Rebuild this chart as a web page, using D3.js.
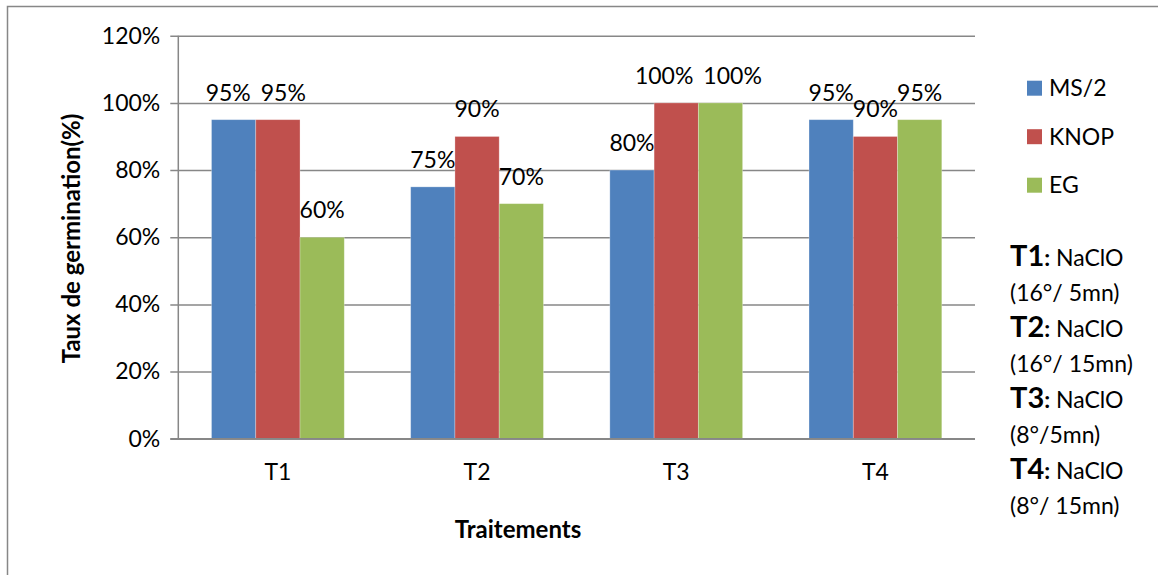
<!DOCTYPE html>
<html>
<head>
<meta charset="utf-8">
<script src="https://cdn.jsdelivr.net/npm/d3@7"></script>
<style>
  html, body { margin: 0; padding: 0; background: #fff; }
  svg { display: block; font-family: Lato, "Open Sans", sans-serif; }
</style>
</head>
<body>
<svg id="chart" width="1158" height="575"></svg>
<script>
// Germination rate per treatment and culture medium
const categories = ["T1", "T2", "T3", "T4"];
const seriesNames = ["MS/2", "KNOP", "EG"];
const ms2Values = [95, 75, 80, 95];
const knopValues = [95, 90, 100, 90];
const egValues = [60, 70, 100, 95];
const yTickValues = [0, 20, 40, 60, 80, 100, 120];
const seriesColors = ["#4F81BD", "#C0504D", "#9BBB59"];
const yTitle = "Taux de germination(%)";
const xTitle = "Traitements";
const treatmentNotes = [
  ["T1", "(16°/ 5mn)"],
  ["T2", "(16°/ 15mn)"],
  ["T3", "(8°/5mn)"],
  ["T4", "(8°/ 15mn)"]
];
const noteProduct = " NaClO";

const seriesValues = [ms2Values, knopValues, egValues];
const rows = categories.map((c, i) => ({
  category: c,
  values: seriesNames.map((s, j) => ({ series: s, value: seriesValues[j][i], idx: j }))
}));

const svg = d3.select("#chart");
const plot = { left: 178.3, right: 975, top: 35.7, bottom: 438.8 };
const gridColor = "#878787";
const textSize = 23;

// outer chart frame
svg.append("rect")
  .attr("x", 7.5).attr("y", 6.5)
  .attr("width", 1200).attr("height", 600)
  .attr("fill", "none").attr("stroke", gridColor).attr("stroke-width", 1.5);

const x = d3.scaleBand()
  .domain(categories)
  .range([plot.left, plot.right])
  .paddingInner(1 / 3)
  .paddingOuter(1 / 6);

const xInner = d3.scaleBand()
  .domain(seriesNames)
  .range([0, x.bandwidth()]);

const y = d3.scaleLinear().domain([0, 120]).range([plot.bottom, plot.top]);

// horizontal gridlines with outward ticks
const yAxis = d3.axisLeft(y)
  .tickValues(yTickValues)
  .tickSize(8)
  .tickPadding(10)
  .tickFormat(d => d + "%");

const yAxisG = svg.append("g")
  .attr("transform", `translate(${plot.left},0)`)
  .call(yAxis);
yAxisG.select(".domain").attr("stroke", gridColor).attr("stroke-width", 1.5)
  .attr("d", `M0,${plot.top}V${plot.bottom}`);
yAxisG.selectAll(".tick line")
  .attr("stroke", gridColor).attr("stroke-width", 1.5)
  .attr("x1", -8).attr("x2", plot.right - plot.left);
yAxisG.selectAll(".tick text")
  .attr("fill", "#000").style("font-size", textSize + "px")
  .style("font-family", "Lato, sans-serif");

// bars
const groups = svg.append("g").selectAll("g")
  .data(rows)
  .join("g")
  .attr("transform", d => `translate(${x(d.category)},0)`);

groups.selectAll("rect")
  .data(d => d.values)
  .join("rect")
  .attr("x", d => xInner(d.series))
  .attr("y", d => y(d.value))
  .attr("width", xInner.bandwidth())
  .attr("height", d => y(0) - y(d.value))
  .attr("fill", d => seriesColors[d.idx])
  .attr("stroke", "rgba(255,255,255,0.35)")
  .attr("stroke-width", 0.8);

// value labels
groups.selectAll("text.value")
  .data(d => d.values)
  .join("text")
  .attr("class", "value")
  .attr("x", d => xInner(d.series) + xInner.bandwidth() / 2)
  .attr("y", d => y(d.value) - 19)
  .attr("text-anchor", "middle")
  .style("font-size", textSize + "px")
  .attr("fill", "#000")
  .text(d => d.value + "%");

// spread apart neighbouring labels that sit at the same height
const labelGap = 10;
groups.each(function () {
  const labels = d3.select(this).selectAll("text.value").nodes().map(n => ({
    node: n,
    cx: +n.getAttribute("x"),
    cy: +n.getAttribute("y"),
    w: n.getComputedTextLength()
  }));
  for (let i = 0; i < labels.length - 1; i++) {
    const a = labels[i], b = labels[i + 1];
    if (Math.abs(a.cy - b.cy) >= 16) continue;
    const need = (a.w + b.w) / 2 + labelGap;
    const have = b.cx - a.cx;
    if (have < need) {
      const shift = (need - have) / 2;
      a.cx -= shift;
      b.cx += shift;
    }
  }
  labels.forEach(l => l.node.setAttribute("x", l.cx));
});

// x axis baseline
const xAxis = d3.axisBottom(x).tickSize(0).tickPadding(28);
const xAxisG = svg.append("g")
  .attr("transform", `translate(0,${plot.bottom})`)
  .call(xAxis);
xAxisG.select(".domain").attr("stroke", gridColor).attr("stroke-width", 1.5)
  .attr("d", `M${plot.left - 8},0H${plot.right}`);
xAxisG.selectAll(".tick text")
  .attr("fill", "#000").attr("dy", "0")
  .attr("y", 41)
  .style("font-size", textSize + "px")
  .style("font-family", "Lato, sans-serif");

// axis titles
svg.append("text")
  .attr("x", 518).attr("y", 538)
  .attr("text-anchor", "middle")
  .style("font-size", "24px").style("font-weight", "bold")
  .text(xTitle);

svg.append("text")
  .attr("transform", `translate(80,238.5) rotate(-90)`)
  .attr("text-anchor", "middle")
  .style("font-size", "24px").style("font-weight", "bold")
  .text(yTitle);

// legend
const legend = svg.append("g").selectAll("g")
  .data(seriesNames)
  .join("g")
  .attr("transform", (d, i) => `translate(1027,${80.7 + i * 48.5})`);
legend.append("rect")
  .attr("width", 15).attr("height", 15)
  .attr("fill", (d, i) => seriesColors[i]);
legend.append("text")
  .attr("x", 22).attr("y", 15.3)
  .style("font-size", textSize + "px")
  .text(d => d);

// treatment descriptions
const notes = svg.append("g").selectAll("g")
  .data(treatmentNotes)
  .join("g")
  .attr("transform", (d, i) => `translate(1010,${266 + i * 71})`);
const firstLine = notes.append("text");
firstLine.append("tspan")
  .style("font-size", "29px").style("font-weight", "bold")
  .text(d => d[0]);
firstLine.append("tspan")
  .style("font-size", textSize + "px").style("font-weight", "bold")
  .text(":");
firstLine.append("tspan")
  .style("font-size", textSize + "px")
  .text(noteProduct);
notes.append("text")
  .attr("y", 35)
  .style("font-size", textSize + "px")
  .text(d => d[1]);
</script>
</body>
</html>
